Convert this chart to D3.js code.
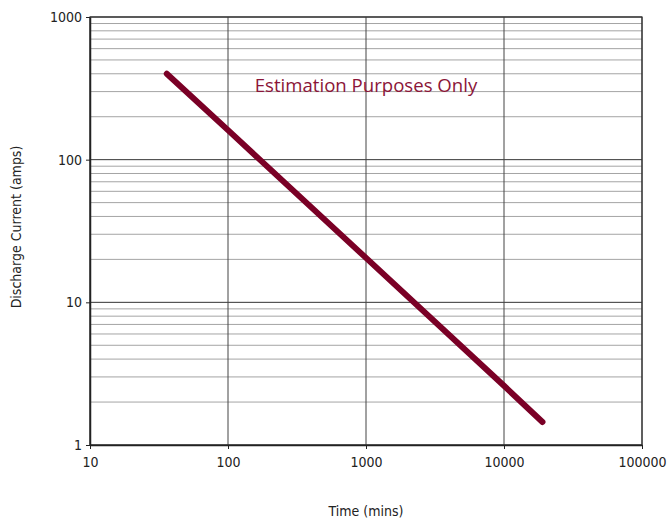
<!DOCTYPE html>
<html>
<head>
<meta charset="utf-8">
<script src="https://cdn.jsdelivr.net/npm/d3@7"></script>
<style>
  body { margin: 0; background: #fff; }
  text { font-family: "DejaVu Sans", sans-serif; font-stretch: condensed; }
</style>
</head>
<body>
<div id="content"></div>
<script>
// Data: discharge current vs time (log-log)
var timeMins = [36, 100, 1000, 10000, 19000];
var currentAmps = [400, 161, 20.5, 2.6, 1.45];
var xTicks = [10, 100, 1000, 10000, 100000];
var yTicks = [1, 10, 100, 1000];

// SVG Dimensions.
var margin = {left : 90, right : 26, top : 17, bottom : 78};
var width = 668 - margin.left - margin.right;
var height = 523 - margin.top - margin.bottom;

var svg = d3.select('#content')
              .append('svg')
              .attr('width', 668)
              .attr('height', 523);

var g = svg.append('g').attr('transform', 'translate(' + margin.left + ',' + margin.top + ')');

var x = d3.scaleLog().domain([10, 100000]).range([0, width]);
var y = d3.scaleLog().domain([1, 1000]).range([height, 0]);

// Minor horizontal gridlines (2..9 in each decade)
var minor = [];
[1, 10, 100].forEach(function(d) {
  for (var k = 2; k <= 9; k++) minor.push(d * k);
});

g.selectAll('.minor')
    .data(minor)
  .enter().append('line')
    .attr('x1', 0).attr('x2', width)
    .attr('y1', function(d) { return y(d); })
    .attr('y2', function(d) { return y(d); })
    .attr('stroke', '#a4a4a4')
    .attr('stroke-width', 1);

// Major gridlines
g.selectAll('.hmajor')
    .data(yTicks)
  .enter().append('line')
    .attr('x1', 0).attr('x2', width)
    .attr('y1', function(d) { return y(d); })
    .attr('y2', function(d) { return y(d); })
    .attr('stroke', '#333')
    .attr('stroke-width', 1);

g.selectAll('.vmajor')
    .data(xTicks)
  .enter().append('line')
    .attr('y1', 0).attr('y2', height)
    .attr('x1', function(d) { return x(d); })
    .attr('x2', function(d) { return x(d); })
    .attr('stroke', '#444')
    .attr('stroke-width', 1);

// Frame
g.append('rect')
    .attr('width', width).attr('height', height)
    .attr('fill', 'none')
    .attr('stroke', '#333')
    .attr('stroke-width', 1.2);

// Axes
var xAxis = g.append('g')
    .attr('transform', 'translate(0,' + height + ')')
    .call(d3.axisBottom(x).tickValues(xTicks).tickFormat(d3.format('d')).tickSize(4).tickSizeOuter(0));
var yAxis = g.append('g')
    .call(d3.axisLeft(y).tickValues(yTicks).tickFormat(d3.format('d')).tickSize(4).tickSizeOuter(0));

[xAxis, yAxis].forEach(function(a) {
  a.select('.domain').attr('stroke', '#222').attr('stroke-width', 1.5);
  a.selectAll('.tick line').attr('stroke', '#222');
  a.selectAll('.tick text').attr('fill', '#222').style('font-size', '14px')
    .style('font-family', '"DejaVu Sans", sans-serif').style('font-stretch', 'condensed');
});
xAxis.selectAll('.tick text').attr('dy', '1.1em');
yAxis.selectAll('.tick text').attr('x', -8);

// Draw the line
g.append('path')
    .datum(timeMins.map(function(t, i) { return {t : t, a : currentAmps[i]}; }))
    .attr('fill', 'none')
    .attr('stroke', '#7a0026')
    .attr('stroke-width', 6)
    .attr('stroke-linecap', 'round')
    .attr('d', d3.line()
                   .x(function(d) { return x(d.t); })
                   .y(function(d) { return y(d.a); }));

// Annotation
g.append('text')
    .attr('x', x(1000))
    .attr('y', y(1000) + 75)
    .attr('text-anchor', 'middle')
    .attr('fill', '#8b1538')
    .style('font-family', '"Open Sans", sans-serif')
    .style('font-stretch', 'normal')
    .style('font-size', '18.6px')
    .text('Estimation Purposes Only');

// Axis titles
svg.append('text')
    .attr('x', margin.left + width / 2)
    .attr('y', 516)
    .attr('text-anchor', 'middle')
    .attr('fill', '#222')
    .style('font-size', '14px')
    .text('Time (mins)');

svg.append('text')
    .attr('transform', 'translate(21,' + (margin.top + height / 2 - 4) + ') rotate(-90)')
    .attr('text-anchor', 'middle')
    .attr('fill', '#222')
    .style('font-size', '14px')
    .text('Discharge Current (amps)');
</script>
</body>
</html>
